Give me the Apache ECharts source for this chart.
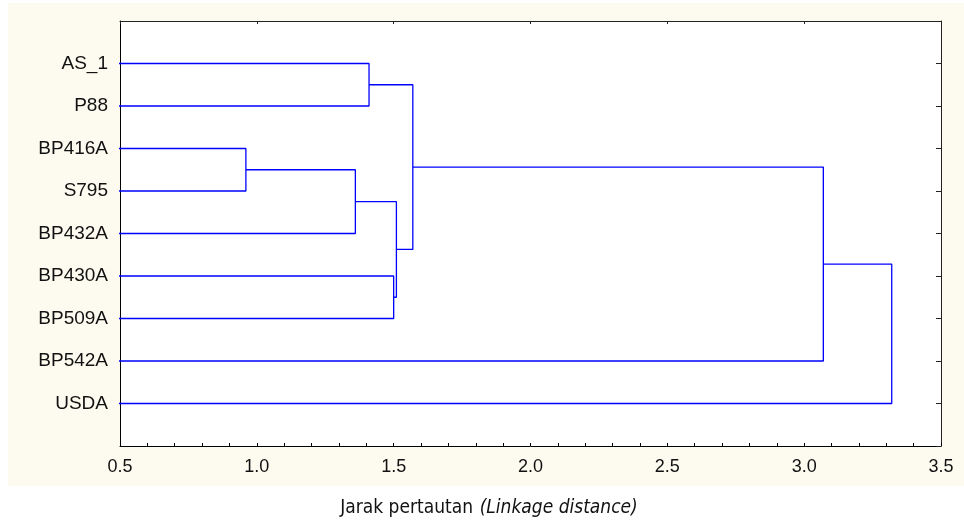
<!DOCTYPE html>
<html>
<head>
<meta charset="utf-8">
<script src="https://cdn.jsdelivr.net/npm/echarts@6/dist/echarts.min.js"></script>
<style>
  html, body { margin: 0; padding: 0; background: #ffffff; }
  #chart { width: 964px; height: 525px; }
</style>
</head>
<body>
<div id="chart"></div>
<script>
// Leaf labels, top to bottom
var leaves = ['AS_1', 'P88', 'BP416A', 'S795', 'BP432A', 'BP430A', 'BP509A', 'BP542A', 'USDA'];

// Agglomeration steps: clusters 0..8 are the leaves, step k creates cluster 9+k
var joinLeft   = [0, 2, 10, 5, 11, 9, 14, 15];
var joinRight  = [1, 3, 4, 6, 12, 13, 7, 8];
var joinHeight = [1.41, 0.96, 1.36, 1.50, 1.51, 1.57, 3.07, 3.32];

// Distance axis ticks
var xMin = 0.5, xMax = 3.5, xStep = 0.5;

// Position (distance, row) of every cluster
var nodeX = [], nodeY = [];
leaves.forEach(function (name, i) { nodeX.push(0); nodeY.push(i + 1); });
joinHeight.forEach(function (h, k) {
  var a = joinLeft[k], b = joinRight[k];
  nodeX.push(h);
  nodeY.push((nodeY[a] + nodeY[b]) / 2);
});

// One U-shaped link per join
var linkSeries = joinHeight.map(function (h, k) {
  var a = joinLeft[k], b = joinRight[k];
  return {
    type: 'line',
    xAxisIndex: 0,
    yAxisIndex: 0,
    data: [[nodeX[a], nodeY[a]], [h, nodeY[a]], [h, nodeY[b]], [nodeX[b], nodeY[b]]],
    symbol: 'none',
    clip: true,
    silent: true,
    lineStyle: { color: '#0000ff', width: 1.3 }
  };
});

var FONT = '"Liberation Sans", Arial, sans-serif';
var TITLE_FONT = '"DejaVu Sans Condensed", "DejaVu Sans", sans-serif';

var chart = echarts.init(document.getElementById('chart'), null, { renderer: 'canvas' });
chart.setOption({
  animation: false,
  backgroundColor: '#ffffff',
  graphic: [
    {
      type: 'rect', z: -10,
      shape: { x: 8, y: 3, width: 956, height: 483 },
      style: { fill: '#fdfbef' }
    },
    {
      type: 'text',
      x: 489, y: 508,
      style: {
        text: '{a|Jarak pertautan}  {b|(Linkage distance)}',
        align: 'center',
        verticalAlign: 'middle',
        rich: {
          a: { fontFamily: TITLE_FONT, fontSize: 19, fill: '#111' },
          b: { fontFamily: TITLE_FONT, fontSize: 19, fontStyle: 'italic', fill: '#111' }
        }
      }
    }
  ],
  grid: {
    left: 120, top: 21, right: 23, bottom: 79,
    show: true, backgroundColor: '#ffffff', borderWidth: 0
  },
  xAxis: [
    {
      type: 'value', position: 'bottom',
      min: xMin, max: xMax, interval: xStep,
      axisLine: { show: true, onZero: false, lineStyle: { color: '#000', width: 1 } },
      axisTick: { show: true, inside: true, length: 3, lineStyle: { color: '#000' } },
      minorTick: { show: true, splitNumber: 5, length: 3, lineStyle: { color: '#000' } },
      axisLabel: {
        margin: 12, fontSize: 18, color: '#111', fontFamily: FONT,
        formatter: function (v) { return v.toFixed(1); }
      },
      splitLine: { show: false }
    },
    {
      type: 'value', position: 'top',
      min: xMin, max: xMax, interval: xStep,
      axisLine: { show: true, onZero: false, lineStyle: { color: '#222', width: 1 } },
      axisTick: { show: true, inside: true, length: 3, lineStyle: { color: '#222' } },
      minorTick: { show: false },
      axisLabel: { show: false },
      splitLine: { show: false }
    }
  ],
  yAxis: [
    {
      type: 'value', position: 'left', inverse: true,
      min: 0, max: leaves.length + 1, interval: 1,
      axisLine: { show: true, onZero: false, lineStyle: { color: '#000', width: 1 } },
      axisTick: { show: false },
      axisLabel: {
        margin: 12, fontSize: 19, color: '#111', fontFamily: FONT,
        formatter: function (v) { return leaves[v - 1] || ''; }
      },
      splitLine: { show: false }
    },
    {
      type: 'value', position: 'right', inverse: true,
      min: 0, max: leaves.length + 1, interval: 1,
      axisLine: { show: true, onZero: false, lineStyle: { color: '#222', width: 1 } },
      axisTick: { show: true, inside: true, length: 5, lineStyle: { color: '#222' } },
      axisLabel: { show: false },
      splitLine: { show: false }
    }
  ],
  series: linkSeries
});
</script>
</body>
</html>
